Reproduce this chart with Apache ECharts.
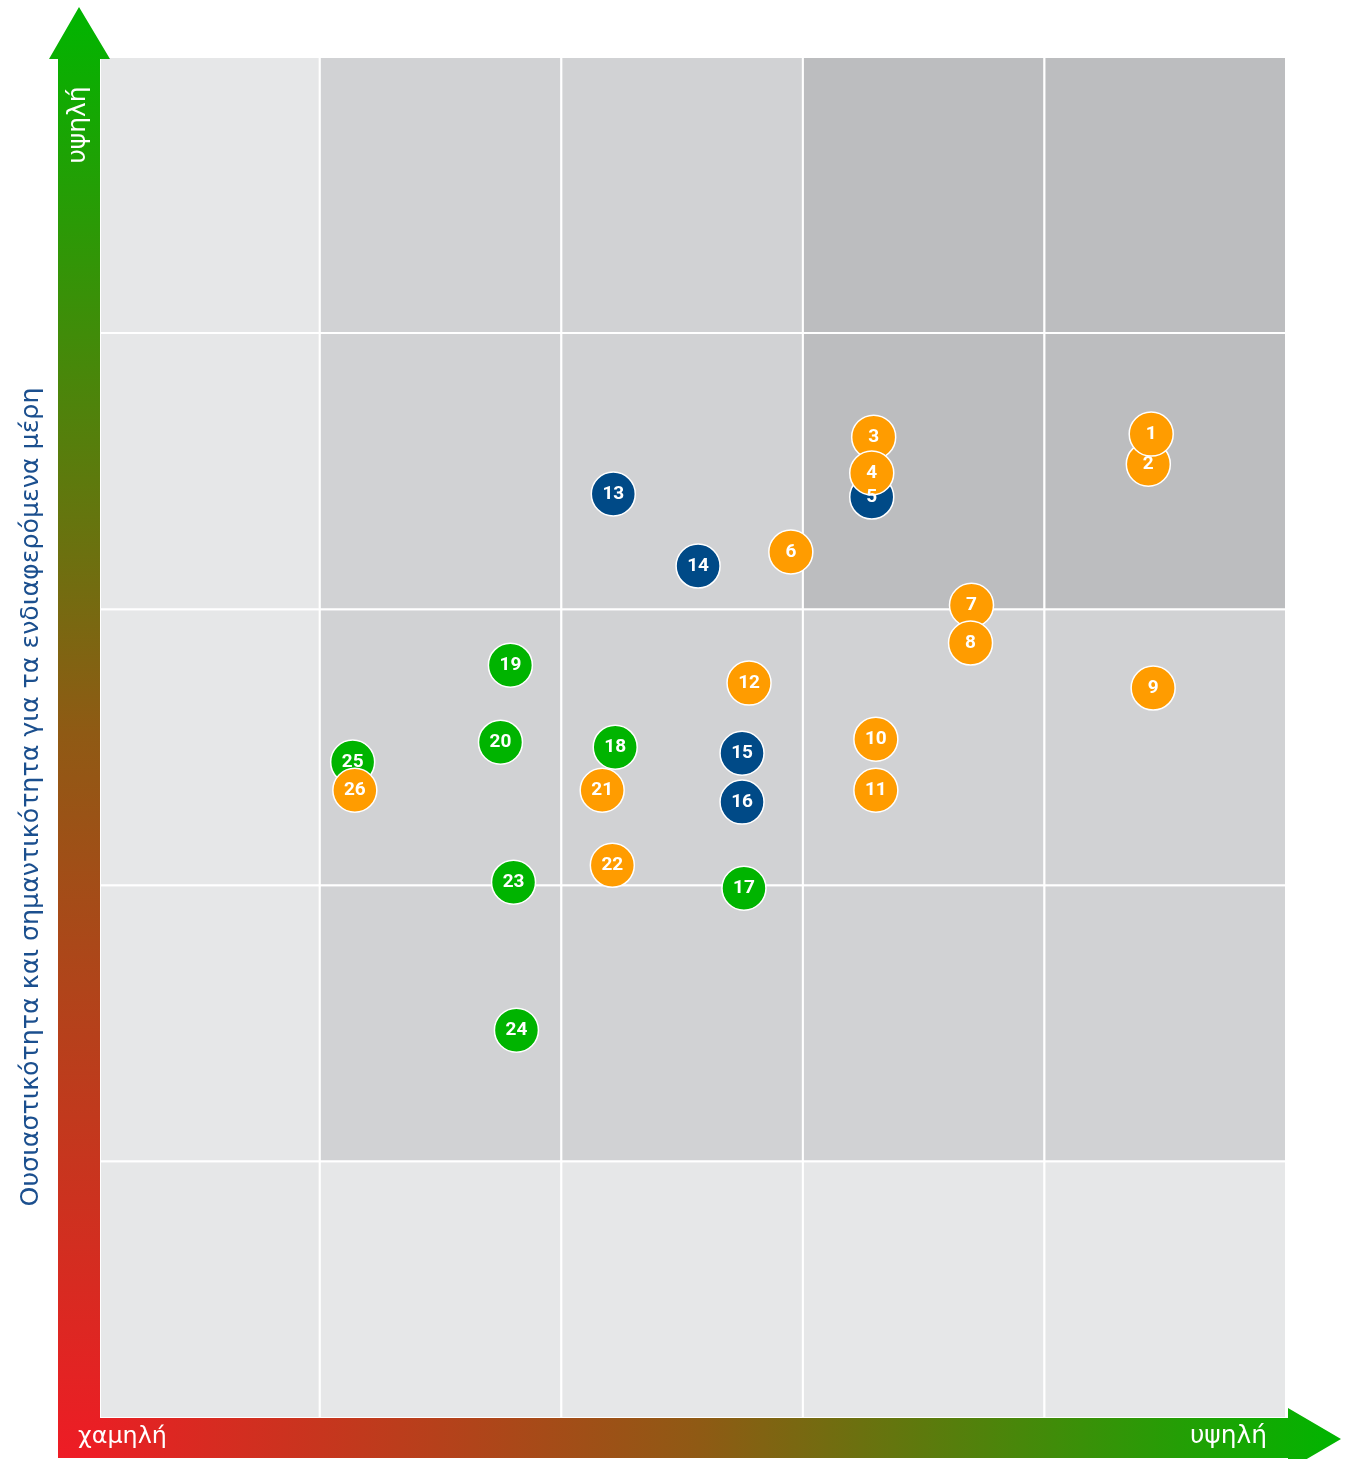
<!DOCTYPE html>
<html><head><meta charset="utf-8">
<script src="https://cdn.jsdelivr.net/npm/echarts@6/dist/echarts.min.js"></script>
<style>html,body{margin:0;padding:0;background:#fff}#c{width:1364px;height:1459px}</style>
</head><body><div id="c"></div>
<script>
// Axis ranges (cells are 1 unit each)
const xRange = [0.09, 5];
const yRange = [0.07, 5];
// Background cells: [x0, x1, y0, y1, shade] shade 0=light 1=mid 2=dark
const cells = [
  [0.09,1,0.07,1,0],[1,2,0.07,1,0],[2,3,0.07,1,0],[3,4,0.07,1,0],[4,5,0.07,1,0],
  [0.09,1,1,2,0],[1,2,1,2,1],[2,3,1,2,1],[3,4,1,2,1],[4,5,1,2,1],
  [0.09,1,2,3,0],[1,2,2,3,1],[2,3,2,3,1],[3,4,2,3,1],[4,5,2,3,1],
  [0.09,1,3,4,0],[1,2,3,4,1],[2,3,3,4,1],[3,4,3,4,2],[4,5,3,4,2],
  [0.09,1,4,5,0],[1,2,4,5,1],[2,3,4,5,1],[3,4,4,5,2],[4,5,4,5,2]
];
const shades = ['#e6e7e8','#d1d2d4','#bcbdbf'];

// Points: [x, y, id]
const greenPts = [
  [2.756,1.989,'17'],[2.223,2.50,'18'],[1.789,2.797,'19'],[1.748,2.518,'20'],
  [1.802,2.011,'23'],[1.814,1.475,'24'],[1.136,2.446,'25']
];
const navyPts = [
  [3.285,3.406,'5'],[2.215,3.417,'13'],[2.566,3.156,'14'],[2.748,2.478,'15'],[2.748,2.301,'16']
];
const orangePts = [
  [4.430,3.525,'2'],[4.442,3.634,'1'],[3.293,3.623,'3'],[3.285,3.493,'4'],
  [2.950,3.207,'6'],[3.698,3.014,'7'],[3.694,2.877,'8'],[4.450,2.714,'9'],
  [3.302,2.529,'10'],[3.302,2.344,'11'],[2.777,2.732,'12'],[2.169,2.344,'21'],
  [2.211,2.072,'22'],[1.145,2.344,'26']
];
const yTitle = 'Ουσιαστικότητα και σημαντικότητα για τα ενδιαφερόμενα μέρη';
const lowLabel = 'χαμηλή';
const highLabel = 'υψηλή';

// fit a font size so the text reaches a target length
const mctx = document.createElement('canvas').getContext('2d');
function fitSize(text, family, weight, target){
  mctx.font = weight + ' 100px ' + family;
  return Math.round(100 * target / mctx.measureText(text).width * 10) / 10;
}
const fam = '"DejaVu Sans"';
const titleSize = fitSize(yTitle, fam, 'normal', 820);
const lowSize = fitSize(lowLabel, fam, 'normal', 89);
const highSize = fitSize(highLabel, fam, 'normal', 77);

const chart = echarts.init(document.getElementById('c'));
function pointSeries(data, color){
  return {
    type:'scatter', data:data, symbol:'circle', symbolSize:44,
    itemStyle:{color:color, borderColor:'#fff', borderWidth:1.5, opacity:1},
    label:{show:true, position:'inside', formatter:p=>p.data[2], color:'#fff',
      fontFamily:'Roboto', fontWeight:'bold', fontSize:19},
    emphasis:{disabled:true}, z:5
  };
}
const green = {type:'linear',x:0,y:1,x2:0,y2:0,colorStops:[
  {offset:0,color:'#ee1c25'},{offset:0.5,color:'#8f5a14'},{offset:1,color:'#00b500'}]};
const greenH = {type:'linear',x:0,y:0,x2:1,y2:0,colorStops:[
  {offset:0,color:'#ee1c25'},{offset:0.5,color:'#8f5a14'},{offset:1,color:'#00b500'}]};
chart.setOption({
  animation:false,
  grid:{left:100,right:78,top:57,bottom:41},
  xAxis:{type:'value',min:xRange[0],max:xRange[1],show:false},
  yAxis:{type:'value',min:yRange[0],max:yRange[1],show:false},
  graphic:[
    {type:'polygon',z:10,shape:{points:[[58,1418],[1288,1418],[1288,1408],[1341,1439],[1288,1470],[1288,1458],[58,1458]]},style:{fill:greenH}},
    {type:'polygon',z:11,shape:{points:[[58,1458],[58,59],[49,59],[79,7],[110,59],[100,59],[100,1458]]},style:{fill:green}},
    {type:'text',z:12,x:79,y:125,rotation:Math.PI/2,style:{text:highLabel,fill:'#fff',font:highSize+'px '+fam,align:'center',verticalAlign:'middle'}},
    {type:'text',z:12,x:78,y:1437,style:{text:lowLabel,fill:'#fff',font:lowSize+'px '+fam,align:'left',verticalAlign:'middle'}},
    {type:'text',z:12,x:1267,y:1437,style:{text:highLabel,fill:'#fff',font:highSize+'px '+fam,align:'right',verticalAlign:'middle'}},
    {type:'text',z:12,x:31,y:797,rotation:Math.PI/2,style:{text:yTitle,fill:'#1b4f8e',font:titleSize+'px '+fam,align:'center',verticalAlign:'middle'}}
  ],
  series:[
    {type:'custom', data:cells, z:1, silent:true,
      renderItem:function(params, api){
        const p0 = api.coord([api.value(0), api.value(3)]);
        const p1 = api.coord([api.value(1), api.value(2)]);
        return {type:'rect', shape:{x:p0[0],y:p0[1],width:p1[0]-p0[0],height:p1[1]-p0[1]},
          style:{fill:shades[api.value(4)], stroke:'#fff', lineWidth:2}};
      }},
    pointSeries(greenPts,'#00b400'),
    pointSeries(navyPts,'#004a87'),
    pointSeries(orangePts,'#ff9c00')
  ]
});
</script></body></html>
